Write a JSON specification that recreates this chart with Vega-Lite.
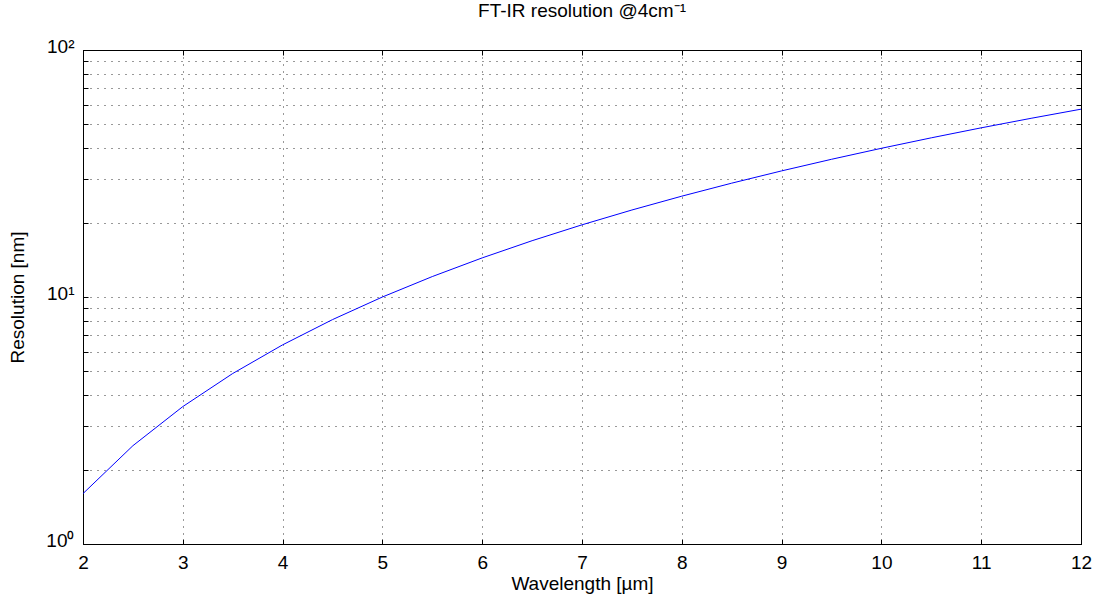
{
  "$schema": "https://vega.github.io/schema/vega-lite/v6.json",
  "autosize": {"type": "none"},
  "width": 998,
  "height": 494,
  "padding": {"left": 83, "top": 50, "right": 12, "bottom": 59},
  "background": "white",
  "title": {"text": "FT-IR resolution @4cm⁻¹", "font": "Liberation Sans", "fontSize": 19, "fontWeight": "normal", "color": "#000", "offset": 16},
  "config": {
    "view": {"stroke": "#000", "strokeWidth": 1},
    "axis": {"labelFont": "Liberation Sans", "titleFont": "Liberation Sans", "labelFontSize": 19, "titleFontSize": 19, "titleFontWeight": "normal", "labelColor": "#000", "titleColor": "#000", "domainColor": "#000", "tickColor": "#000"}
  },
  "data": {"values": [
    {"w": 2, "r": 1.6}, {"w": 2.5, "r": 2.5}, {"w": 3, "r": 3.6}, {"w": 3.5, "r": 4.9},
    {"w": 4, "r": 6.4}, {"w": 4.5, "r": 8.1}, {"w": 5, "r": 10}, {"w": 5.5, "r": 12.1},
    {"w": 6, "r": 14.4}, {"w": 6.5, "r": 16.9}, {"w": 7, "r": 19.6}, {"w": 7.5, "r": 22.5},
    {"w": 8, "r": 25.6}, {"w": 8.5, "r": 28.9}, {"w": 9, "r": 32.4}, {"w": 9.5, "r": 36.1},
    {"w": 10, "r": 40}, {"w": 10.5, "r": 44.1}, {"w": 11, "r": 48.4}, {"w": 11.5, "r": 52.9},
    {"w": 12, "r": 57.6}
  ]},
  "resolve": {"axis": {"x": "independent", "y": "independent"}},
  "layer": [
    {
      "mark": {"type": "line", "color": "#0000ff", "strokeWidth": 1},
      "encoding": {
        "x": {"field": "w", "type": "quantitative", "scale": {"domain": [2, 12], "nice": false, "zero": false},
          "axis": {"title": "Wavelength [µm]", "values": [2,3,4,5,6,7,8,9,10,11,12], "grid": true, "gridDash": [1, 6], "gridColor": "#000", "gridOpacity": 0.8, "tickSize": -5, "labelPadding": 14, "titlePadding": 2, "labelFlush": false, "domain": true}},
        "y": {"field": "r", "type": "quantitative", "scale": {"type": "log", "domain": [1, 100], "nice": false},
          "axis": {"title": "Resolution [nm]", "values": [1,2,3,4,5,6,7,8,9,10,20,30,40,50,60,70,80,90,100], "labelExpr": "datum.value == 1 ? '10⁰' : datum.value == 10 ? '10¹' : datum.value == 100 ? '10²' : ''", "grid": true, "gridDash": [1, 6], "gridColor": "#000", "gridOpacity": 0.8, "tickSize": -5, "labelPadding": 14, "labelOffset": -4, "titlePadding": 18, "labelFlush": false}}
      }
    },
    {
      "mark": {"type": "line", "opacity": 0},
      "encoding": {
        "x": {"field": "w", "type": "quantitative", "axis": {"orient": "top", "title": null, "labels": false, "grid": false, "values": [2,3,4,5,6,7,8,9,10,11,12], "tickSize": -5}},
        "y": {"field": "r", "type": "quantitative", "axis": {"orient": "right", "title": null, "labels": false, "grid": false, "values": [1,2,3,4,5,6,7,8,9,10,20,30,40,50,60,70,80,90,100], "tickSize": -5}}
      }
    }
  ]
}
